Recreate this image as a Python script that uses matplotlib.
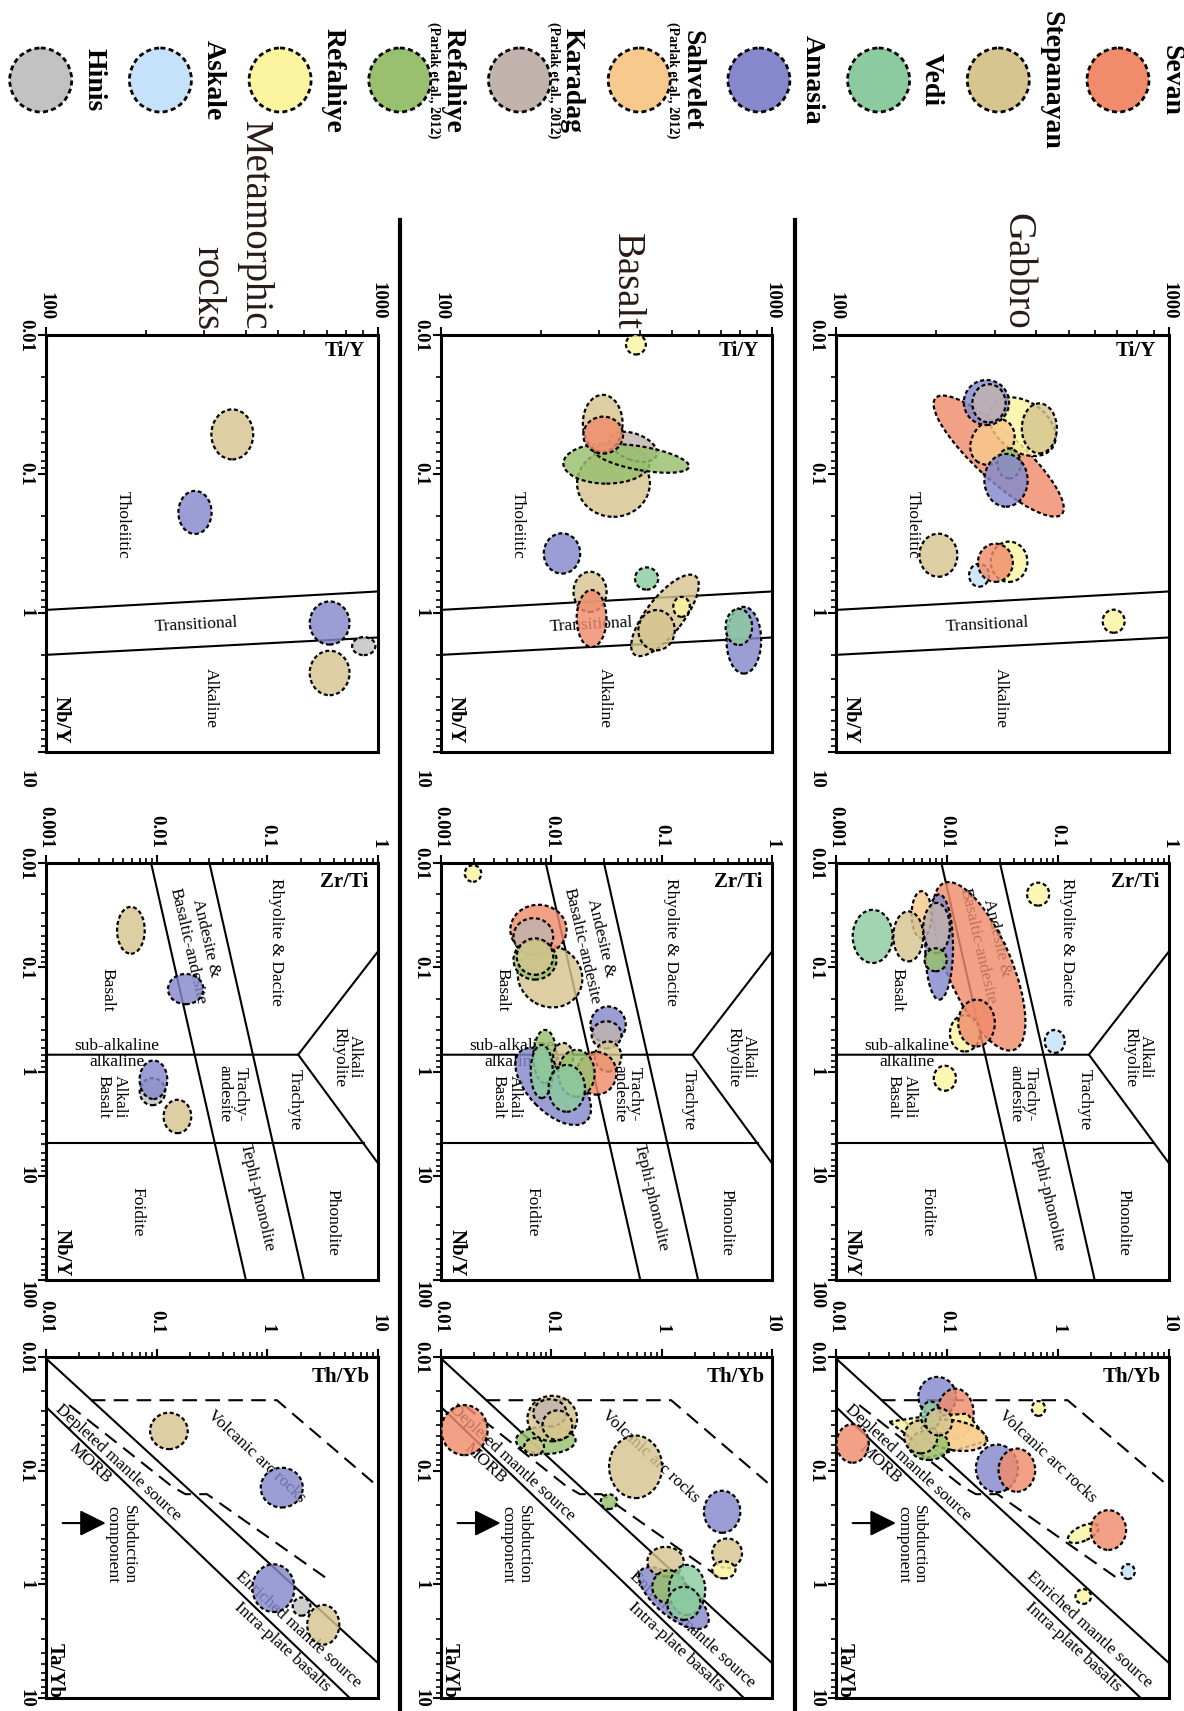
import numpy as np
import matplotlib.pyplot as plt
from matplotlib import transforms
from matplotlib.colors import to_rgba
from matplotlib.patches import Ellipse, Polygon

plt.rcParams['font.family'] = ['Liberation Serif', 'DejaVu Serif']

W, H = 1184, 1711  # output size in pixels

# legend groups (drawn right to left along the top strip)
groups = ['Sevan', 'Stepanayan', 'Vedi', 'Amasia', 'SahveletP', 'KaradagP',
          'RefahiyeP', 'Refahiye', 'Askale', 'Hinis']
group_names = ['Sevan', 'Stepanayan', 'Vedi', 'Amasia', 'Sahvelet', 'Karadag',
               'Refahiye', 'Refahiye', 'Askale', 'Hinis']
group_refs = ['', '', '', '', '(Parlak et al., 2012)', '(Parlak et al., 2012)',
              '(Parlak et al., 2012)', '', '', '']
group_colors = ['#f08c6c', '#d6c58f', '#8ccba0', '#8589cc', '#f7c98c',
                '#c2b3af', '#98c06e', '#fbf5a0', '#c6e2fa', '#c2c2c2']

# fields: (group, x value, y value, spread x [decades], spread y [decades], angle)
# Ti/Y (x) vs Nb/Y (y)
gabbro_tiy = [
    ('Sevan', 308, 0.0743, 0.515, 0.338, -42.6),
    ('Refahiye', 363, 0.0457, 0.22, 0.36, -35),
    ('SahveletP', 295, 0.0586, 0.12, 0.36, -40),
    ('Amasia', 283, 0.0306, 0.136, 0.324, 0),
    ('KaradagP', 288, 0.031, 0.10, 0.275, 0),
    ('Stepanayan', 408, 0.047, 0.105, 0.36, 0),
    ('RefahiyeP', 331, 0.084, 0.07, 0.216, 0),
    ('Amasia', 324, 0.111, 0.13, 0.38, 0),
    ('Refahiye', 331, 0.428, 0.11, 0.29, 0),
    ('Askale', 269, 0.535, 0.06, 0.165, 0),
    ('Sevan', 301, 0.435, 0.105, 0.275, 0),
    ('Stepanayan', 203, 0.384, 0.114, 0.31, 0),
    ('Refahiye', 682, 1.146, 0.066, 0.166, 0),
]
basalt_tiy = [
    ('Stepanayan', 332, 0.117, 0.22, 0.48, 0),
    ('RefahiyeP', 316, 0.084, 0.26, 0.29, 0),
    ('KaradagP', 381, 0.0637, 0.15, 0.19, -20),
    ('RefahiyeP', 404, 0.0773, 0.29, 0.17, -10),
    ('Stepanayan', 308, 0.0432, 0.12, 0.41, 0),
    ('Sevan', 309, 0.0525, 0.12, 0.266, 0),
    ('Refahiye', 388, 0.0117, 0.06, 0.144, 0),
    ('Amasia', 232, 0.373, 0.11, 0.29, 0),
    ('Vedi', 418, 0.565, 0.07, 0.16, 0),
    ('Stepanayan', 282, 0.705, 0.10, 0.29, 0),
    ('Sevan', 285, 1.096, 0.09, 0.41, 0),
    ('Stepanayan', 475, 1.04, 0.30, 0.265, 52),
    ('Stepanayan', 448, 1.33, 0.11, 0.29, 0),
    ('Refahiye', 533, 0.904, 0.05, 0.144, 0),
    ('Amasia', 822, 1.57, 0.105, 0.48, 0),
    ('Vedi', 794, 1.26, 0.08, 0.26, 0),
]
meta_tiy = [
    ('Stepanayan', 364, 0.0519, 0.126, 0.36, 0),
    ('Amasia', 281, 0.189, 0.10, 0.31, 0),
    ('Amasia', 715, 1.18, 0.12, 0.31, 0),
    ('Hinis', 906, 1.73, 0.07, 0.13, 0),
    ('Stepanayan', 715, 2.70, 0.12, 0.32, 0),
]

# Zr/Ti (x) vs Nb/Y (y)
gabbro_zrti = [
    ('Sevan', 0.0195, 0.098, 1.63, 0.62, -67),
    ('Amasia', 0.0085, 0.064, 0.25, 1.01, 0),
    ('SahveletP', 0.0059, 0.0313, 0.18, 0.45, 0),
    ('KaradagP', 0.00805, 0.042, 0.24, 0.48, 0),
    ('RefahiyeP', 0.0079, 0.0848, 0.20, 0.22, 0),
    ('Stepanayan', 0.00448, 0.0506, 0.27, 0.48, 0),
    ('Vedi', 0.00214, 0.0506, 0.36, 0.51, 0),
    ('Refahiye', 0.0145, 0.43, 0.27, 0.35, 0),
    ('Sevan', 0.01845, 0.343, 0.33, 0.45, 0),
    ('Askale', 0.0935, 0.515, 0.18, 0.22, 0),
    ('Refahiye', 0.00957, 1.16, 0.20, 0.24, 0),
    ('Refahiye', 0.0662, 0.0199, 0.20, 0.22, 0),
]
basalt_zrti = [
    ('Stepanayan', 0.00973, 0.1225, 0.60, 0.58, -30),
    ('Sevan', 0.00764, 0.0437, 0.51, 0.48, 0),
    ('KaradagP', 0.00687, 0.0506, 0.36, 0.35, 0),
    ('RefahiyeP', 0.00711, 0.0848, 0.39, 0.38, 0),
    ('Stepanayan', 0.00711, 0.079, 0.33, 0.35, 0),
    ('Refahiye', 0.00195, 0.0126, 0.15, 0.16, 0),
    ('Amasia', 0.0327, 0.356, 0.32, 0.35, 0),
    ('KaradagP', 0.0316, 0.445, 0.27, 0.26, 0),
    ('Stepanayan', 0.0327, 0.718, 0.24, 0.29, 0),
    ('Sevan', 0.0257, 1.04, 0.36, 0.41, 0),
    ('Amasia', 0.0104, 1.39, 0.87, 0.48, -46),
    ('RefahiyeP', 0.00877, 0.718, 0.21, 0.51, 0),
    ('Stepanayan', 0.0128, 0.718, 0.18, 0.26, 0),
    ('Vedi', 0.00818, 1.0, 0.20, 0.51, 0),
    ('RefahiyeP', 0.0169, 1.04, 0.33, 0.45, 0),
    ('Vedi', 0.0138, 1.45, 0.33, 0.45, 0),
]
meta_zrti = [
    ('Stepanayan', 0.00585, 0.0442, 0.25, 0.45, 0),
    ('Amasia', 0.0183, 0.162, 0.32, 0.29, 0),
    ('Hinis', 0.00916, 1.56, 0.23, 0.26, 0),
    ('Amasia', 0.00935, 1.2, 0.25, 0.37, 0),
    ('Stepanayan', 0.0154, 2.7, 0.25, 0.32, 0),
]

# Th/Yb (x) vs Ta/Yb (y)
gabbro_thyb = [
    ('Sevan', 0.0141, 0.0576, 0.29, 0.34, 0),
    ('Amasia', 0.0817, 0.0224, 0.34, 0.35, 0),
    ('Sevan', 0.119, 0.0315, 0.33, 0.44, 0),
    ('SahveletP', 0.115, 0.0488, 0.60, 0.26, -10),
    ('RefahiyeP', 0.0687, 0.0597, 0.36, 0.26, 0),
    ('Stepanayan', 0.058, 0.0504, 0.30, 0.29, 0),
    ('Vedi', 0.0713, 0.0325, 0.18, 0.24, 0),
    ('Stepanayan', 0.0845, 0.0372, 0.24, 0.24, 0),
    ('Amasia', 0.282, 0.0955, 0.38, 0.42, 0),
    ('Sevan', 0.426, 0.099, 0.33, 0.38, 0),
    ('Refahiye', 0.667, 0.0284, 0.12, 0.13, 0),
    ('Refahiye', 1.69, 0.356, 0.30, 0.13, 25),
    ('Sevan', 2.84, 0.333, 0.32, 0.35, 0),
    ('Askale', 4.28, 0.773, 0.12, 0.13, 0),
    ('Refahiye', 1.69, 1.28, 0.14, 0.13, 0),
]
gabbro_thyb_blob_x = [0.0301, 0.058, 0.152, 0.238, 0.152, 0.0817, 0.0621, 0.0505]
gabbro_thyb_blob_y = [0.0372, 0.0337, 0.0315, 0.054, 0.0616, 0.073, 0.078, 0.054]
basalt_thyb = [
    ('Sevan', 0.0163, 0.044, 0.42, 0.44, 0),
    ('RefahiyeP', 0.089, 0.054, 0.54, 0.24, 0),
    ('Stepanayan', 0.102, 0.0348, 0.45, 0.40, 0),
    ('KaradagP', 0.097, 0.031, 0.30, 0.24, 0),
    ('Stepanayan', 0.1135, 0.0398, 0.27, 0.26, 0),
    ('Stepanayan', 0.0698, 0.0616, 0.18, 0.15, 0),
    ('Stepanayan', 0.58, 0.0925, 0.48, 0.55, 0),
    ('RefahiyeP', 0.333, 0.1875, 0.15, 0.13, 0),
    ('Amasia', 3.53, 0.23, 0.33, 0.37, 0),
    ('Stepanayan', 3.92, 0.533, 0.27, 0.26, 0),
    ('Refahiye', 3.66, 0.746, 0.21, 0.15, 0),
    ('Amasia', 1.29, 1.32, 0.78, 0.32, -40),
    ('Stepanayan', 1.084, 0.631, 0.33, 0.26, 0),
    ('RefahiyeP', 1.16, 1.05, 0.30, 0.29, 0),
    ('Vedi', 1.70, 1.12, 0.33, 0.44, 0),
    ('Vedi', 1.59, 1.47, 0.30, 0.29, 0),
]
meta_thyb = [
    ('Stepanayan', 0.129, 0.0447, 0.34, 0.32, 0),
    ('Amasia', 1.35, 0.141, 0.38, 0.35, 0),
    ('Amasia', 1.135, 1.08, 0.38, 0.42, 0),
    ('Hinis', 2.04, 1.57, 0.16, 0.16, 0),
    ('Stepanayan', 3.2, 2.27, 0.29, 0.35, 0),
]

# diagram boundaries
tiy_bound_x = [100, 1000]
tiy_bound_lo = [0.95, 0.70]
tiy_bound_hi = [2.0, 1.5]
zr_lines = [
    ([0.0089, 0.064], [0.01, 100]),
    ([0.030, 0.214], [0.01, 100]),
    ([0.001, 0.19, 1.0], [0.69, 0.69, 0.0705]),
    ([0.19, 1.0], [0.69, 7.59]),
    ([0.001, 0.74], [4.87, 4.87]),
]
th_solid = [
    ([0.01, 10], [0.0103, 4.93]),
    ([0.01, 5.56], [0.0275, 10]),
]
th_dashed = [
    ([0.0254, 1.22, 10], [0.024, 0.024, 0.138]),
    ([0.0162, 0.138, 0.182, 0.285, 3.67], [0.0265, 0.138, 0.161, 0.161, 0.927]),
]

# panel placement (pixels): rows are Gabbro, Basalt, Metamorphic
row_left = [836, 441, 46]
row_width = [333, 331, 332]
col_top = [335, 863, 1357]
col_height = [417, 417, 341]

fig = plt.figure(figsize=(W / 100, H / 100), dpi=100)
color_of = dict(zip(groups, group_colors))
DOTS = (0, (1.8, 1.2))


def add_panel(r, c):
    x0, w = row_left[r], row_width[r]
    y0, h = col_top[c], col_height[c]
    return fig.add_axes([x0 / W, 1 - (y0 + h) / H, w / W, h / H])


def frame(ax, xlim, ylim, xt, xl, yt, yl, top_gap, last_shift):
    ax.set_xscale('log')
    ax.set_yscale('log')
    ax.set_xlim(*xlim)
    ax.set_ylim(*ylim)
    ax.set_autoscale_on(False)
    ax.xaxis.tick_top()
    ax.tick_params(which='both', direction='out', top=True, bottom=False,
                   left=True, right=False, labeltop=False, labelbottom=False,
                   labelleft=False, labelright=False)
    ax.tick_params(which='major', length=6, width=1.5)
    ax.tick_params(which='minor', length=3.5, width=1.2)
    for sp in ax.spines.values():
        sp.set_linewidth(2.2)
    for v, s in zip(xt, xl):
        ax.annotate(s, (v, 1), xycoords=('data', 'axes fraction'),
                    xytext=(0, top_gap), textcoords='offset pixels',
                    rotation=-90, rotation_mode='anchor', ha='right',
                    va='center', fontsize=13.5, fontweight='bold')
    for i, (v, s) in enumerate(zip(yt, yl)):
        dy = -last_shift if i == len(yt) - 1 else 0
        ax.annotate(s, (0, v), xycoords=('axes fraction', 'data'),
                    xytext=(-20, dy), textcoords='offset pixels',
                    rotation=-90, ha='center', va='center',
                    fontsize=13.5, fontweight='bold')


def field(ax, g, xv, yv, sx, sy, ang=0.0):
    # spread in decades along each axis, turned on screen by ang
    pos = ax.get_position()
    xl = np.log10(ax.get_xlim())
    yl = np.log10(ax.get_ylim())
    px_x = pos.width * W / abs(xl[1] - xl[0])
    px_y = pos.height * H / abs(yl[1] - yl[0])
    tr = fig.dpi_scale_trans + transforms.ScaledTranslation(xv, yv, ax.transData)
    ax.add_patch(Ellipse((0, 0), sx * px_x / fig.dpi, sy * px_y / fig.dpi,
                         angle=ang, transform=tr,
                         facecolor=to_rgba(color_of[g], 0.82), edgecolor='k',
                         lw=1.6, ls=DOTS, zorder=3))


def note(ax, u, v, s, rot=0, size=12.5, bold=False):
    ax.text(u, v, s, transform=ax.transAxes, rotation=rot, ha='center',
            va='center', fontsize=size, linespacing=1.0,
            fontweight='bold' if bold else 'normal', zorder=1.5)


def tiy_panel(ax, fields):
    frame(ax, (100, 1000), (10, 0.01), [100, 1000], ['100', '1000'],
          [0.01, 0.1, 1, 10], ['0.01', '0.1', '1', '10'], 15, 27)
    ax.plot(tiy_bound_x, tiy_bound_lo, 'k-', lw=1.5, zorder=2)
    ax.plot(tiy_bound_x, tiy_bound_hi, 'k-', lw=1.5, zorder=2)
    note(ax, 0.231, 0.544, 'Tholeiitic', rot=-90)
    note(ax, 0.453, 0.305, 'Transitional', rot=3)
    note(ax, 0.496, 0.13, 'Alkaline', rot=-90)
    note(ax, 0.90, 0.962, 'Ti/Y', size=15, bold=True)
    note(ax, 0.045, 0.077, 'Nb/Y', rot=-90, size=15, bold=True)
    for f in fields:
        field(ax, *f)


def zrti_panel(ax, fields):
    frame(ax, (0.001, 1), (100, 0.01), [0.001, 0.01, 0.1, 1],
          ['0.001', '0.01', '0.1', '1'], [0.01, 0.1, 1, 10, 100],
          ['0.01', '0.1', '1', '10', '100'], 15, 15)
    for xs, ys in zr_lines:
        ax.plot(xs, ys, 'k-', lw=1.5, zorder=2)
    note(ax, 0.694, 0.81, 'Rhyolite & Dacite', rot=-90)
    note(ax, 0.483, 0.82, 'Andesite &', rot=-77)
    note(ax, 0.426, 0.80, 'Basaltic-andesite', rot=-77)
    note(ax, 0.186, 0.695, 'Basalt', rot=-90)
    note(ax, 0.213, 0.561, 'sub-alkaline')
    note(ax, 0.213, 0.523, 'alkaline')
    note(ax, 0.198, 0.439, 'Alkali\nBasalt', rot=-90)
    note(ax, 0.562, 0.446, 'Trachy-\nandesite', rot=-90)
    note(ax, 0.748, 0.432, 'Trachyte', rot=-90)
    note(ax, 0.907, 0.535, 'Alkali\nRhyolite', rot=-90)
    note(ax, 0.634, 0.199, 'Tephi-phonolite', rot=-77)
    note(ax, 0.862, 0.139, 'Phonolite', rot=-90)
    note(ax, 0.276, 0.163, 'Foidite', rot=-90)
    note(ax, 0.898, 0.955, 'Zr/Ti', size=15, bold=True)
    note(ax, 0.048, 0.065, 'Nb/Y', rot=-90, size=15, bold=True)
    for f in fields:
        field(ax, *f)


def thyb_panel(ax, fields, blob=None):
    ticks = [0.01, 0.1, 1, 10]
    labs = ['0.01', '0.1', '1', '10']
    frame(ax, (0.01, 10), (10, 0.01), ticks, labs, ticks, labs, 24, 0)
    for xs, ys in th_solid:
        ax.plot(xs, ys, 'k-', lw=1.5, zorder=2)
    for xs, ys in th_dashed:
        ax.plot(xs, ys, 'k', lw=1.5, ls=(0, (7, 4)), zorder=2)
    note(ax, 0.634, 0.707, 'Volcanic arc rocks', rot=-43)
    note(ax, 0.216, 0.689, 'Depleted mantle source', rot=-42.5)
    note(ax, 0.132, 0.689, 'MORB', rot=-42.5)
    note(ax, 0.76, 0.20, 'Enriched mantle source', rot=-42.5)
    note(ax, 0.712, 0.15, 'Intra-plate basalts', rot=-42.5)
    note(ax, 0.225, 0.449, 'Subduction\ncomponent', rot=-90)
    note(ax, 0.889, 0.941, 'Th/Yb', size=15, bold=True)
    note(ax, 0.027, 0.082, 'Ta/Yb', rot=-90, size=15, bold=True)
    ax.annotate('', xy=(0.18, 0.513), xytext=(0.05, 0.513),
                xycoords='axes fraction',
                arrowprops=dict(arrowstyle='-|>,head_length=0.8,head_width=0.4',
                                color='k', lw=1.5, mutation_scale=20,
                                shrinkA=0, shrinkB=0))
    for k, f in enumerate(fields):
        if blob is not None and k == 3:
            ax.add_patch(Polygon(np.column_stack(blob[1:]), closed=True,
                                 facecolor=to_rgba(color_of[blob[0]], 0.82),
                                 edgecolor='k', lw=1.6, ls=DOTS, zorder=3))
        field(ax, *f)


tiy_panel(add_panel(0, 0), gabbro_tiy)
tiy_panel(add_panel(1, 0), basalt_tiy)
tiy_panel(add_panel(2, 0), meta_tiy)
zrti_panel(add_panel(0, 1), gabbro_zrti)
zrti_panel(add_panel(1, 1), basalt_zrti)
zrti_panel(add_panel(2, 1), meta_zrti)
thyb_panel(add_panel(0, 2), gabbro_thyb,
           ('Refahiye', gabbro_thyb_blob_x, gabbro_thyb_blob_y))
thyb_panel(add_panel(1, 2), basalt_thyb)
thyb_panel(add_panel(2, 2), meta_thyb)

# legend strip, row titles and separators on a pixel-space overlay
lax = fig.add_axes([0, 0, 1, 1], zorder=-1)
lax.set_xlim(0, W)
lax.set_ylim(H, 0)
lax.axis('off')
for i, (name, ref, c) in enumerate(zip(group_names, group_refs, group_colors)):
    cx = 1118 - 119.7 * i
    lax.add_patch(Ellipse((cx, 80), 62, 64, facecolor=c, edgecolor='k',
                          lw=2, ls=DOTS))
    lax.text(cx + 53, 80, name, rotation=-90, ha='center', va='center',
             fontsize=20, fontweight='bold')
    if ref:
        lax.text(cx + 34, 80, ref, rotation=-90, ha='center', va='center',
                 fontsize=10, fontweight='bold')

title_kw = dict(rotation=-90, rotation_mode='anchor', ha='right',
                va='baseline', fontsize=28, color='#2a1a16')
lax.text(1007, 330, 'Gabbro', **title_kw)
lax.text(617, 330, 'Basalt', **title_kw)
lax.text(245, 330, 'Metamorphic', **title_kw)
lax.text(197, 330, 'rocks', **title_kw)
lax.plot([795, 795], [220, H], color='k', lw=3)
lax.plot([400, 400], [220, H], color='k', lw=3)

fig.savefig('out.png', dpi=100, facecolor='white')
